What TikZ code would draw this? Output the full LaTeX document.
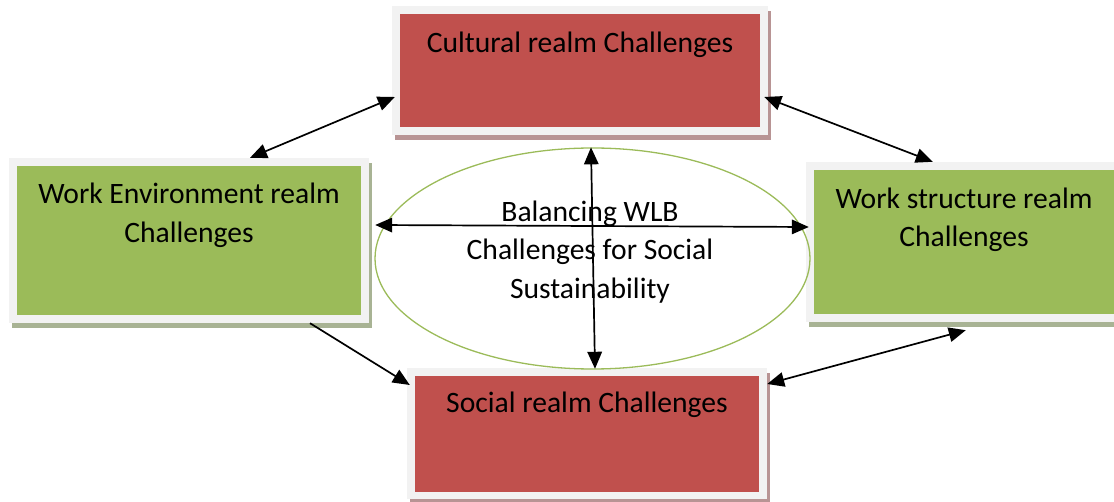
\documentclass[tikz,border=0pt]{standalone}
\usepackage{fontspec}
\setmainfont{Carlito}
\usetikzlibrary{shapes.geometric,arrows.meta,calc,shadows}
\definecolor{boxred}{HTML}{C0504D}
\definecolor{boxgreen}{HTML}{9BBB59}
\definecolor{rim}{HTML}{F2F2F2}
\definecolor{shred}{HTML}{B89494}
\definecolor{shgreen}{HTML}{A8B394}
\definecolor{ellline}{HTML}{9BBB59}
\tikzset{
  realm/.style n args={2}{rectangle, inner sep=0pt, fill=rim,
    drop shadow={shadow xshift=3pt, shadow yshift=-5.5pt, fill=#2, opacity=1},
    path picture={\fill[#1] ([shift={(8pt,7.5pt)}]path picture bounding box.south west)
      rectangle ([shift={(-8pt,-8pt)}]path picture bounding box.north east);}},
  redbox/.style={realm={boxred}{shred}},
  greenbox/.style={realm={boxgreen}{shgreen}},
  lbl/.style={align=center, font=\fontsize{29.6}{38.5}\selectfont, inner sep=0pt},
  link/.style={line width=1.7pt, {Triangle[length=17pt,width=14.5pt]}-{Triangle[length=17pt,width=14.5pt]}},
  onelink/.style={line width=1.7pt, -{Triangle[length=17pt,width=14.5pt]}}
}
\begin{document}
\begin{tikzpicture}[x=1pt,y=-1pt]
\useasboundingbox (0,0) rectangle (1114,502);
\clip (0,0) rectangle (1114,502);
% boxes
\node[redbox, minimum width=376pt, minimum height=129pt] (cult) at (580,70.5) {};
\node[lbl] (cultt) at (580,45) {Cultural realm Challenges};
\node[greenbox, minimum width=360pt, minimum height=165pt] (env) at (189,240.5) {};
\node[lbl] (envt) at (189,215.5) {Work Environment realm\\Challenges};
\node[greenbox, minimum width=364pt, minimum height=160pt] (ws) at (988,242) {};
\node[lbl] (wst) at (964,220) {Work structure realm\\Challenges};
\node[redbox, minimum width=360pt, minimum height=131pt] (soc) at (587,433.5) {};
\node[lbl] (soct) at (587,405) {Social realm Challenges};
% ellipse
\node[ellipse, draw=ellline, line width=1.3pt, minimum width=435pt, minimum height=221pt, inner sep=0pt] (ell) at (592.5,258.5) {};
\node[lbl] (ellt) at (590,252) {Balancing WLB\\Challenges for Social\\Sustainability};
% connectors
\draw[link] ($(env.north)+(61,0)$) -- ($(cult.west)+(3,26.5)$);
\draw[link] ($(cult.east)+(-4,26.5)$) -- ($(ws.north west)+(127,0)$);
\draw[link] ($(env.east)+(6,-15.5)$) -- ($(ws.west)+(3,-15)$);
\draw[link] ($(ell.north)+(-1.5,0)$) -- ($(soc.north)+(8,1)$);
\draw[onelink] ($(env.south)+(121,0)$) -- ($(soc.west)+(3,-48.5)$);
\draw[link] ($(soc.east)+(0,-49.5)$) -- ($(ws.south west)+(160,8)$);
\end{tikzpicture}
\end{document}
